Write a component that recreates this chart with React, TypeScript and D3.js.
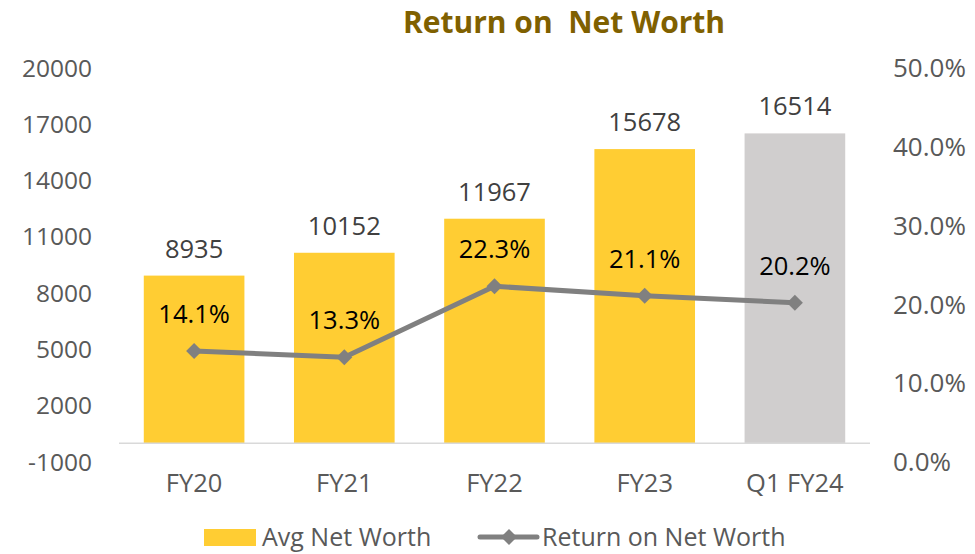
import React from "react";
import * as d3 from "d3";

const categories = ["FY20", "FY21", "FY22", "FY23", "Q1 FY24"];
const avgNetWorth = [8935, 10152, 11967, 15678, 16514];
const returnOnNetWorth = [14.1, 13.3, 22.3, 21.1, 20.2];
const leftTicks = [-1000, 2000, 5000, 8000, 11000, 14000, 17000, 20000];
const rightTicks = [0, 10, 20, 30, 40, 50];

const W = 975;
const H = 554;
const FONT = "'Open Sans', 'DejaVu Sans', sans-serif";

export default function App() {
  const x = d3
    .scaleBand<string>()
    .domain(categories)
    .range([119, 870])
    .paddingInner(0.33)
    .paddingOuter(0.165);
  const yL = d3.scaleLinear().domain([-1000, 20000]).range([462, 68]);
  const yR = d3.scaleLinear().domain([0, 50]).range([462, 68]);

  const line = d3
    .line<number>()
    .x((_, i) => (x(categories[i]) as number) + x.bandwidth() / 2)
    .y((d) => yR(d));

  const diamond = (cx: number, cy: number, r: number) =>
    `M${cx},${cy - r}L${cx + r},${cy}L${cx},${cy + r}L${cx - r},${cy}Z`;

  return (
    <svg
      width={W}
      height={H}
      style={{ position: "absolute", left: 0, top: 0, background: "#fff" }}
      fontFamily={FONT}
    >
      <text
        x={564}
        y={33}
        textAnchor="middle"
        fontSize={30}
        fontWeight="bold"
        fill="#7F6000"
        style={{ whiteSpace: "pre" }}
      >
        {"Return on  Net Worth"}
      </text>

      {leftTicks.map((t) => (
        <text
          key={"l" + t}
          x={92}
          y={yL(t)}
          dy="0.35em"
          textAnchor="end"
          fontSize={24.5}
          fill="#595959"
        >
          {t}
        </text>
      ))}
      {rightTicks.map((t) => (
        <text
          key={"r" + t}
          x={893}
          y={yR(t)}
          dy="0.35em"
          textAnchor="start"
          fontSize={26}
          fill="#595959"
        >
          {t.toFixed(1) + "%"}
        </text>
      ))}

      {avgNetWorth.map((v, i) => (
        <rect
          key={"b" + i}
          x={x(categories[i])}
          y={yL(v)}
          width={x.bandwidth()}
          height={yL(0) - yL(v)}
          fill={i === categories.length - 1 ? "#D0CECE" : "#FFCD33"}
        />
      ))}

      <line x1={119} x2={870} y1={yL(0)} y2={yL(0)} stroke="#D9D9D9" strokeWidth={1.5} />

      {categories.map((c) => (
        <text
          key={"x" + c}
          x={(x(c) as number) + x.bandwidth() / 2}
          y={492}
          textAnchor="middle"
          fontSize={25.5}
          fill="#595959"
        >
          {c}
        </text>
      ))}

      {avgNetWorth.map((v, i) => (
        <text
          key={"bv" + i}
          x={(x(categories[i]) as number) + x.bandwidth() / 2}
          y={yL(v) - 18}
          textAnchor="middle"
          fontSize={25.5}
          fill="#404040"
        >
          {v}
        </text>
      ))}

      <path
        d={line(returnOnNetWorth) || ""}
        fill="none"
        stroke="#808080"
        strokeWidth={5}
        strokeLinejoin="round"
      />
      {returnOnNetWorth.map((v, i) => (
        <path
          key={"m" + i}
          d={diamond((x(categories[i]) as number) + x.bandwidth() / 2, yR(v), 8)}
          fill="#808080"
        />
      ))}
      {returnOnNetWorth.map((v, i) => (
        <text
          key={"pv" + i}
          x={(x(categories[i]) as number) + x.bandwidth() / 2}
          y={yR(v) - 28}
          textAnchor="middle"
          fontSize={25.5}
          fill="#000"
        >
          {v.toFixed(1) + "%"}
        </text>
      ))}

      <rect x={204} y={529} width={52} height={17} fill="#FFCD33" />
      <text x={262} y={546} fontSize={25} fill="#595959">
        Avg Net Worth
      </text>
      <line x1={480} x2={537} y1={537} y2={537} stroke="#808080" strokeWidth={5} strokeLinecap="round" />
      <path d={diamond(509, 537, 8)} fill="#808080" />
      <text x={542} y={546} fontSize={25} fill="#595959">
        Return on Net Worth
      </text>
    </svg>
  );
}
